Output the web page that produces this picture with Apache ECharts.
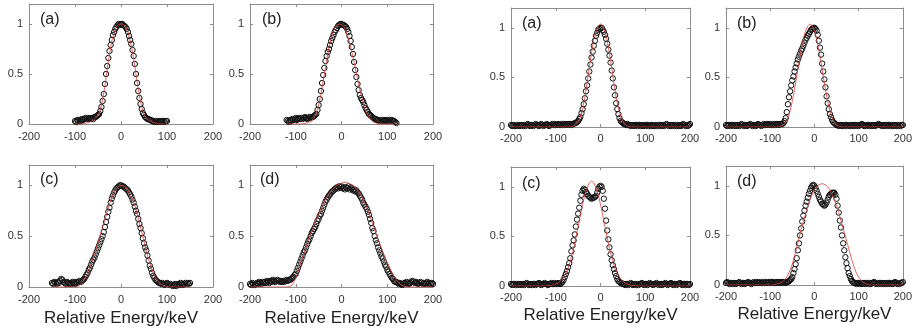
<!DOCTYPE html>
<html><head><meta charset="utf-8">
<script src="https://cdn.jsdelivr.net/npm/echarts@6/dist/echarts.min.js"></script>
<style>html,body{margin:0;padding:0;background:#fff}#c{width:915px;height:332px}</style>
</head><body><div id="c"></div><script>
// ---------- data ----------
const xTickValues = [-200, -100, 0, 100, 200];
const yTickValues = [0, 0.5, 1];
const panelLabels = ['(a)', '(b)', '(c)', '(d)', '(a)', '(b)', '(c)', '(d)'];
const xAxisTitle = 'Relative Energy/keV';
const circleStep = 2.5;   // keV between measured points
const fitStep = 5;        // keV between fit-curve samples

// left figure (a)
const leftACircStart = -100;
const leftACirc = [.03,.02,.04,.03,.04,.03,.05,.04,.05,.06,
 .05,.06,.05,.06,.05,.06,.05,.07,.07,.08,
 .09,.1,.13,.17,.23,.3,.4,.5,.58,.66,
 .73,.79,.84,.89,.92,.95,.97,.99,1,.99,
 1,
 1,.99,.98,.97,.95,.92,.88,.84,.8,.74,
 .68,.6,.5,.41,.33,.26,.2,.15,.11,.09,
 .07,.06,.05,.05,.04,.04,.03,.03,.02,.03,
 .02,.03,.02,.03,.02,.03,.03,.02,.03,.03];
const leftAFitStart = -100;
const leftAFit = [0,0,0,0,
 .005,.01,.015,.025,.04,.06,.09,.14,.24,.38,.55,.7,.83,.92,.97,.995,1,.995,.97,.92,.83,.72,.58,.42,.28,.17,.1,.06,.04,.025,.015,.01,.005,
 0,0,0,0];

// left figure (b)
const leftBCircStart = -120;
const leftBCirc = [.04,.03,.02,.04,.03,.05,.04,.05,.06,.04,
 .05,.06,.05,.06,.05,.06,.07,.06,.05,.06,
 .07,.06,.07,.07,.08,.09,.1,.14,.19,.25,
 .33,.41,.49,.56,.63,.68,.72,.75,.79,.83,
 .86,.89,.92,.94,.96,.98,.99,1,1,.99,
 .99,.98,.97,.95,.92,.88,.83,.77,.7,.62,
 .54,.47,.4,.34,.29,.26,.24,.22,.19,.16,
 .14,.12,.1,.09,.08,.07,.06,.05,.05,.04,
 .04,.03,.04,.03,.04,.03,.04,.03,.04,.03,
 .04,.03,.04,.03,.03,.02,.01];
const leftBFitStart = -120;
const leftBFit = [0,0,0,0,0,0,0,.003,.005,.01,.02,
 .03,.06,.11,.19,.3,.43,.57,.7,.81,.9,.96,.99,1,.995,.97,.93,.86,.77,.67,.56,.45,.34,.25,.17,.11,.07,.04,.02,.01,.005,
 .003,0,0,0,0,0,0,0];

// left figure (c)
const leftCCircStart = -150;
const leftCCirc = [.04,.03,.05,.04,.03,.05,.04,.06,.08,.07,
 .05,.04,.03,.05,.04,.03,.04,.03,.05,.04,
 .03,.05,.04,.05,.06,.05,.06,.07,.08,.1,
 .12,.14,.17,.19,.22,.25,.27,.29,.32,.35,
 .38,.41,.44,.47,.5,.54,.59,.64,.69,.74,
 .78,.83,.87,.9,.93,.95,.97,.98,.99,1,
 1,.99,.99,.98,.97,.96,.95,.93,.91,.89,
 .86,.83,.79,.75,.72,.67,.62,.58,.53,.48,
 .43,.39,.36,.31,.26,.21,.18,.14,.11,.09,
 .07,.06,.05,.04,.04,.03,.04,.03,.02,.03,
 .04,.03,.02,.03,.02,.01,.02,.03,.01,.02,
 .03,.02,.04,.03,.02,.03,.04,.03,.04,.03,.04];
const leftCFitStart = -150;
const leftCFit = [0,0,0,0,0,0,0,0,0,0,.003,
 .005,.02,.04,.07,.11,.16,.22,.29,.36,.43,.51,.59,.66,.74,.82,.88,.93,.97,.99,1,.995,.98,.95,.91,.86,.8,.72,.63,.54,.45,.36,.27,.2,.14,.09,.06,.03,.02,.01,
 .005,0,0,0,0,0,0,0,0,0,0];

// left figure (d)
const leftDCircStart = -200;
const leftDCirc = [.03,.02,.04,.03,.02,.03,.04,.03,.05,.04,
 .03,.05,.04,.05,.04,.06,.05,.04,.06,.05,
 .07,.06,.05,.06,.07,.06,.05,.06,.05,.06,
 .05,.06,.07,.06,.07,
 .07,.08,.09,.1,.12,.13,.16,.19,.22,.25,
 .28,.31,.34,.36,.39,.42,.45,.47,.5,.53,
 .55,.57,.59,.62,.65,.67,.7,.72,.75,.78,
 .81,.84,.86,.88,.9,.91,.93,.94,.95,.96,
 .97,.98,.97,.99,.98,.99,.97,.98,.96,.98,
 .97,.99,.96,.98,.97,.95,.96,.94,.95,.93,
 .92,.9,.88,.86,.83,.81,.79,.77,.74,.71,
 .67,.63,.58,.55,.5,.46,.43,.39,.36,.33,
 .3,.28,.25,.22,.2,.17,.15,.13,.11,.09,
 .08,.06,.05,.05,.04,
 .03,.04,.03,.02,.03,.04,.03,.05,.04,.03,
 .04,.05,.06,.05,.04,.05,.04,.03,.04,.05,
 .04,.03,.04,.03,.04,.05,.03,.04,.03,.04,
 .03];
const leftDFitStart = -200;
const leftDFit = [0,0,0,0,0,0,0,0,0,0,0,0,0,0,0,0,0,.005,
 .01,.04,.09,.15,.22,.29,.36,.43,.49,.55,.61,.67,.72,.77,.82,.86,.9,.93,.96,.98,1,1.01,1.02,1.03,1.03,1.02,1.01,1,.98,.95,.92,.88,.83,.78,.72,.66,.59,.53,.47,.41,.35,.29,.24,.19,.14,.1,.07,.04,.02,.01,
 .005,0,0,0,0,0,0,0,0,0,0,0,0];

// right figure (a)
const rightACircStart = -200;
const rightACirc = [.02,.01,.02,.01,.01,.02,.01,.02,.01,.02,
 .02,.01,.02,.01,.02,.03,.02,.01,.02,.02,
 .01,.02,.03,.02,.02,.01,.02,.03,.02,.01,
 .02,.02,.03,.02,.01,.02,.02,.03,.02,.03,
 .02,.02,.03,.02,.02,.03,.02,.03,.02,.03,
 .03,.02,.03,.03,.02,.03,.03,.04,
 .04,.05,.06,.08,.1,.14,.18,.23,.29,.36,
 .42,.49,.56,.63,.7,.76,.82,.87,.92,.95,
 .98,.99,1,1,.98,.96,.93,.89,.84,.78,
 .72,.65,.57,.49,.4,.32,.24,.18,.13,.09,
 .06,.05,.04,.03,
 .03,.02,.03,.02,.02,.01,.02,.02,.01,.02,
 .02,.01,.02,.02,.01,.02,.01,.02,.01,.02,
 .02,.01,.02,.01,.02,.01,.01,.02,.01,.02,
 .01,.02,.02,.01,.02,.01,.02,.03,.02,.01,
 .02,.01,.02,.02,.01,.02,.01,.02,.01,.02,
 .01,.02,.03,.02,.01,.02,.01,.02,.03];
const rightAFitStart = -200;
const rightAFit = [0,0,0,0,0,0,0,0,0,0,0,0,0,0,0,0,0,0,0,0,0,0,0,0,0,0,0,
 .003,.01,.02,.05,.1,.19,.3,.44,.6,.75,.89,.97,1.02,1.04,1.02,.96,.87,.74,.59,.44,.3,.19,.11,.06,.03,.01,.003,
 0,0,0,0,0,0,0,0,0,0,0,0,0,0,0,0,0,0,0,0,0,0,0,0,0,0,0];

// right figure (b)
const rightBCircStart = -200;
const rightBCirc = [.02,.01,.02,.02,.01,.02,.02,.01,.02,.01,
 .02,.02,.01,.02,.03,.02,.01,.02,.02,.01,
 .02,.02,.03,.02,.01,.02,.02,.01,.02,.03,
 .02,.02,.01,.02,.03,.02,.02,.03,.02,.03,
 .02,.02,.03,.02,.03,.02,.03,.03,.02,.03,
 .03,
 .03,.04,.06,.09,.15,.23,.3,.36,.42,.47,
 .51,.56,.6,.64,.68,.71,.74,.77,.79,.82,
 .85,.88,.9,.92,.94,.96,.98,.99,1,1,
 .99,.97,.93,.87,.8,.73,.64,.56,.48,.4,
 .31,.24,.18,.13,.1,.07,.05,.04,.03,
 .02,.02,.01,.02,.02,.01,.02,.01,.02,.02,
 .01,.02,.01,.02,.02,.01,.02,.02,.01,.02,
 .01,.02,.02,.03,.02,.01,.02,.01,.02,.02,
 .01,.02,.01,.02,.02,.01,.02,.02,.03,.02,
 .02,.01,.02,.01,.02,.02,.01,.02,.02,.01,
 .02,.01,.02,.02,.01,.02,.01,.02,.01,.02,
 .02];
const rightBFitStart = -200;
const rightBFit = [0,0,0,0,0,0,0,0,0,0,0,0,0,0,0,0,0,0,0,0,0,0,0,0,0,
 .01,.02,.05,.09,.16,.26,.38,.51,.65,.78,.89,.97,1.02,1.04,1.02,.97,.89,.78,.65,.51,.38,.26,.16,.09,.05,.02,.01,
 0,0,0,0,0,0,0,0,0,0,0,0,0,0,0,0,0,0,0,0,0,0,0,0,0,0,0,0,0];

// right figure (c)
const rightCCircStart = -200;
const rightCCirc = [.02,.01,.02,.02,.01,.02,.01,.02,.02,.01,
 .02,.02,.01,.02,.03,.02,.01,.02,.02,.01,
 .02,.02,.01,.02,.02,.03,.02,.01,.02,.02,
 .03,.02,.02,.01,.02,.02,.03,.02,.02,.03,
 .02,.02,.03,.02,.02,
 .03,.04,.06,.09,.12,.15,.19,.23,.28,.35,
 .41,.46,.52,.6,.67,.73,.79,.86,.92,.96,
 .98,.97,.95,.93,.91,.9,.89,.88,.89,.89,
 .9,.91,.94,.98,1,1.01,1,.96,.88,.78,
 .66,.56,.47,.39,.32,.26,.21,.17,.13,.1,
 .07,.05,.04,.03,
 .03,.02,.02,.01,.02,.02,.01,.02,.03,.02,
 .01,.02,.02,.01,.02,.01,.02,.02,.03,.02,
 .01,.02,.02,.01,.02,.03,.02,.02,.01,.02,
 .02,.03,.02,.01,.02,.02,.01,.02,.02,.03,
 .02,.01,.02,.02,.03,.02,.01,.02,.02,.01,
 .02,.02,.03,.02,.01,.02,.02,.01,.02,.02,
 .01,.02];
const rightCFitStart = -200;
const rightCFit = [0,0,0,0,0,0,0,0,0,0,0,0,0,0,0,0,
 .002,.004,.006,.01,.02,.03,.05,.07,.11,.15,.21,.29,.38,.49,.6,.71,.82,.92,.99,1.04,1.06,1.04,.99,.92,.82,.71,.6,.49,.38,.29,.21,.15,.11,.07,.05,.03,.02,.01,.006,.004,.002,
 0,0,0,0,0,0,0,0,0,0,0,0,0,0,0,0,0,0,0,0,0,0,0,0];

// right figure (d)
const rightDCircStart = -200;
const rightDCirc = [.02,.03,.02,.01,.02,.02,.01,.02,.02,.01,
 .02,.02,.03,.02,.01,.02,.02,.01,.02,.02,
 .03,.02,.02,.01,.02,.03,.02,.02,.03,.02,
 .02,.03,.02,.02,.03,.02,.03,.02,.02,.03,
 .02,.03,.03,.02,.03,.02,.03,.03,.02,.03,
 .03,.02,.03,.03,.02,.03,
 .03,.04,.05,.06,.08,.12,.16,.21,.27,.35,
 .42,.5,.57,.64,.7,.75,.8,.84,.88,.92,
 .95,.98,1,1.01,1,.98,.95,.92,.89,.86,
 .84,.82,.81,.8,.81,.83,.86,.89,.91,.92,
 .93,.93,.93,.91,.87,.8,.73,.65,.58,.5,
 .42,.35,.28,.22,.17,.12,.09,.06,.04,.03,
 .02,.02,.01,.02,.02,.01,.02,.01,.02,.02,
 .01,.02,.02,.01,.02,.01,.02,.02,.03,.02,
 .01,.02,.01,.02,.02,.01,.02,.02,.01,.02,
 .01,.02,.02,.01,.02,.01,.02,.03,.02,.01,
 .02,.01,.02,.02,.03];
const rightDFitStart = -200;
const rightDFit = [0,0,0,0,0,0,0,0,0,0,0,0,0,0,0,0,0,0,0,0,0,0,
 .005,.01,.015,.025,.04,.065,.1,.15,.21,.29,.38,.47,.56,.64,.72,.79,.86,.91,.96,.99,1.01,1.02,1.02,1.01,.99,.96,.91,.86,.8,.73,.65,.57,.49,.41,.33,.25,.18,.12,.08,.05,.03,.015,.005,
 0,0,0,0,0,0,0,0,0,0,0,0,0,0,0,0];

// ---------- layout / style ----------
const FONT = '"Liberation Sans", Arial, Helvetica, sans-serif';
const panels = [
  {circ: leftACirc,  cs: leftACircStart,  fit: leftAFit,  fs: leftAFitStart,  g: {left: 29,  top: 4,   width: 184, height: 120}, lab: [40, 12],  name: 0},
  {circ: leftBCirc,  cs: leftBCircStart,  fit: leftBFit,  fs: leftBFitStart,  g: {left: 250, top: 4,   width: 183, height: 120}, lab: [262, 12], name: 0},
  {circ: leftCCirc,  cs: leftCCircStart,  fit: leftCFit,  fs: leftCFitStart,  g: {left: 29,  top: 165, width: 184, height: 122}, lab: [40, 172], name: 31},
  {circ: leftDCirc,  cs: leftDCircStart,  fit: leftDFit,  fs: leftDFitStart,  g: {left: 250, top: 165, width: 183, height: 122}, lab: [260, 172], name: 31},
  {circ: rightACirc, cs: rightACircStart, fit: rightAFit, fs: rightAFitStart, g: {left: 511, top: 8,   width: 179, height: 119}, lab: [522, 16], name: 0},
  {circ: rightBCirc, cs: rightBCircStart, fit: rightBFit, fs: rightBFitStart, g: {left: 726, top: 8,   width: 182, height: 119}, lab: [737, 16], name: 0},
  {circ: rightCCirc, cs: rightCCircStart, fit: rightCFit, fs: rightCFitStart, g: {left: 511, top: 167, width: 179, height: 119}, lab: [522, 176], name: 29},
  {circ: rightDCirc, cs: rightDCircStart, fit: rightDFit, fs: rightDFitStart, g: {left: 726, top: 166, width: 182, height: 119}, lab: [737, 174], name: 29}
];
const frameColor = '#8c8c8c';
const lineCommon = {show: true, onZero: false, lineStyle: {color: frameColor, width: 1}};
const tickCommon = {show: true, inside: true, length: 3, lineStyle: {color: frameColor, width: 1}};

const grid = [], xAxis = [], yAxis = [], series = [], title = [];
panels.forEach((p, i) => {
  grid.push(Object.assign({containLabel: false}, p.g));
  const xMin = xTickValues[0], xMax = xTickValues[xTickValues.length - 1];
  const xInt = xTickValues[1] - xTickValues[0];
  const yInt = yTickValues[1] - yTickValues[0];
  xAxis.push({
    type: 'value', gridIndex: i, position: 'bottom', min: xMin, max: xMax, interval: xInt,
    axisLine: lineCommon, axisTick: tickCommon, splitLine: {show: false},
    axisLabel: {fontSize: 11, color: '#333', margin: i >= 4 ? 6 : 7, fontFamily: FONT},
    name: p.name ? xAxisTitle : '', nameLocation: 'middle', nameGap: p.name,
    nameTextStyle: {fontSize: 17, color: '#222', fontFamily: FONT, verticalAlign: 'middle'}
  });
  xAxis.push({
    type: 'value', gridIndex: i, position: 'top', min: xMin, max: xMax, interval: xInt,
    axisLine: lineCommon, axisTick: tickCommon, splitLine: {show: false}, axisLabel: {show: false}
  });
  yAxis.push({
    type: 'value', gridIndex: i, position: 'left', min: 0, max: 1.2, interval: yInt,
    axisLine: lineCommon, axisTick: tickCommon, splitLine: {show: false},
    axisLabel: {fontSize: 11, color: '#333', margin: 6, fontFamily: FONT, showMaxLabel: false,
      formatter: v => (yTickValues.indexOf(v) >= 0 ? String(v) : '')}
  });
  yAxis.push({
    type: 'value', gridIndex: i, position: 'right', min: 0, max: 1.2, interval: yInt,
    axisLine: lineCommon, axisTick: tickCommon, splitLine: {show: false}, axisLabel: {show: false}
  });
  series.push({
    type: 'scatter', xAxisIndex: 2 * i, yAxisIndex: 2 * i,
    data: p.circ.map((v, k) => [p.cs + k * circleStep, v]),
    symbol: 'circle', symbolSize: 5.4, silent: true,
    itemStyle: {color: 'rgba(0,0,0,0)', borderColor: '#111', borderWidth: 1, opacity: 1},
    z: 2
  });
  series.push({
    type: 'line', xAxisIndex: 2 * i, yAxisIndex: 2 * i,
    data: p.fit.map((v, k) => [p.fs + k * fitStep, v]),
    showSymbol: false, symbol: 'none', silent: true,
    lineStyle: {color: '#d8413c', width: 0.8}, z: 3
  });
  title.push({
    text: panelLabels[i], left: p.lab[0], top: p.lab[1], padding: 0,
    textStyle: {fontSize: 16, fontWeight: 'normal', color: '#222', fontFamily: FONT}
  });
});

const chart = echarts.init(document.getElementById('c'), null, {renderer: 'canvas'});
chart.setOption({animation: false, backgroundColor: '#fff', title, grid, xAxis, yAxis, series});
</script></body></html>
